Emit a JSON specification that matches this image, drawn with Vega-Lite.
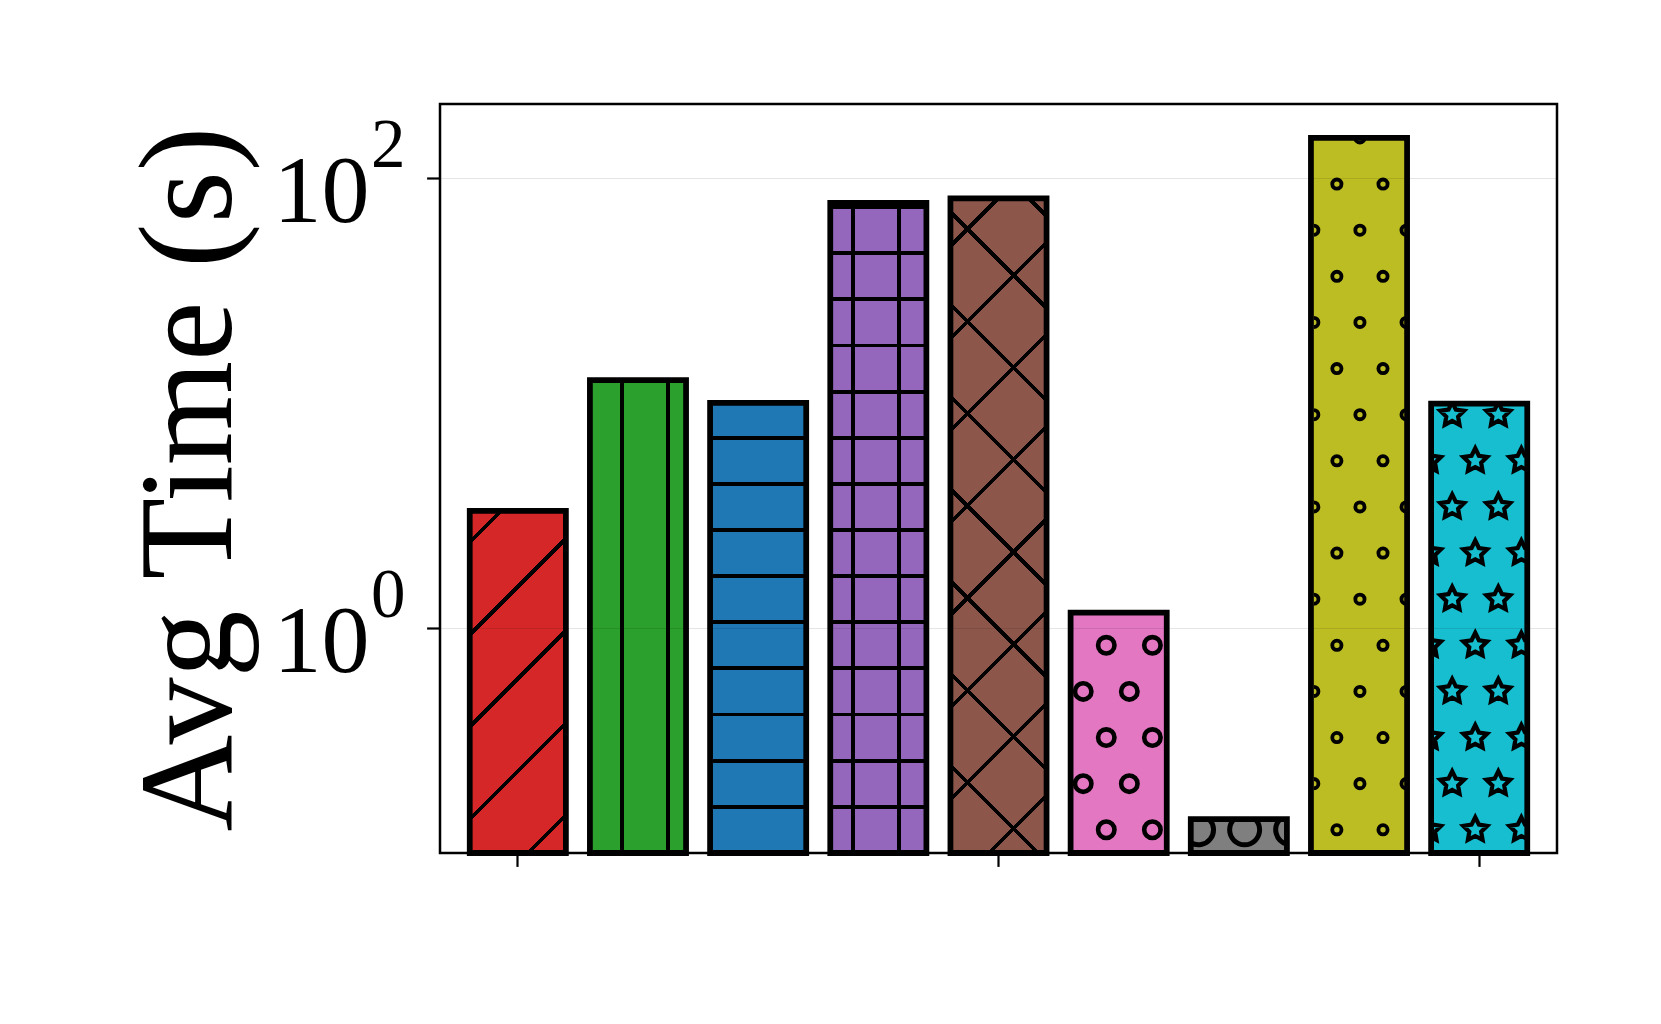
{
  "$schema": "https://vega.github.io/schema/vega-lite/v6.json",
  "autosize": {"type": "none"},
  "width": 1117,
  "height": 749,
  "padding": {"left": 440, "top": 104, "right": 104, "bottom": 171},
  "background": "white",
  "config": {
    "view": {"stroke": "black", "strokeWidth": 2.5},
    "font": "Liberation Serif"
  },
  "data": {
    "values": [
      {"method": "M1", "time": 3.314},
      {"method": "M2", "time": 12.65},
      {"method": "M3", "time": 10.03},
      {"method": "M4", "time": 77.6},
      {"method": "M5", "time": 81.2},
      {"method": "M6", "time": 1.172},
      {"method": "M7", "time": 0.1413},
      {"method": "M8", "time": 151.1},
      {"method": "M9", "time": 9.95}
    ]
  },
  "encoding": {
    "x": {
      "field": "method", "type": "nominal", "sort": null,
      "scale": {"domain": ["M1","M2","M3","M4","M5","M6","M7","M8","M9"], "paddingInner": 0.2, "paddingOuter": 0.2475},
      "axis": {"values": ["M1","M5","M9"], "labels": false, "title": null, "domain": false, "grid": false, "tickSize": 13.4, "tickWidth": 2.2, "tickColor": "black"}
    }
  },
  "layer": [
    {
      "mark": {"type": "bar", "strokeWidth": 0},
      "encoding": {
        "y": {
          "field": "time", "type": "quantitative",
          "scale": {"type": "log", "domain": [0.1, 213.5]},
          "axis": {
            "orient": "left",
            "values": [1, 100],
            "labelExpr": "'10'",
            "labelFont": "Liberation Serif", "labelFontSize": 96, "labelColor": "black",
            "labelBaseline": "alphabetic", "labelOffset": 43.5, "labelPadding": 57.6,
            "tickSize": 13.4, "tickWidth": 2.2, "tickColor": "black",
            "domain": false,
            "grid": true, "gridColor": "black", "gridOpacity": 0.1, "gridWidth": 1.2,
            "title": "Avg Time (s)", "titleFont": "Liberation Serif", "titleFontSize": 134, "titleFontWeight": "normal", "titleColor": "black", "titlePadding": 15,
            "zindex": 1
          }
        },
        "y2": {"datum": 0.1},
        "fill": {
          "condition": [
            {"test": "datum.method === 'M1'", "value": {"gradient": "linear", "x1": 0, "y1": 0, "x2": 0.33373, "y2": 1.18729, "stops": [
              {"offset": 0, "color": "#d62728"},
              {"offset": 0.06535, "color": "#d62728"}, {"offset": 0.06535, "color": "black"}, {"offset": 0.07775, "color": "black"}, {"offset": 0.07775, "color": "#d62728"},
              {"offset": 0.27586, "color": "#d62728"}, {"offset": 0.27586, "color": "black"}, {"offset": 0.28826, "color": "black"}, {"offset": 0.28826, "color": "#d62728"},
              {"offset": 0.48637, "color": "#d62728"}, {"offset": 0.48637, "color": "black"}, {"offset": 0.49877, "color": "black"}, {"offset": 0.49877, "color": "#d62728"},
              {"offset": 0.69688, "color": "#d62728"}, {"offset": 0.69688, "color": "black"}, {"offset": 0.70928, "color": "black"}, {"offset": 0.70928, "color": "#d62728"},
              {"offset": 0.90739, "color": "#d62728"}, {"offset": 0.90739, "color": "black"}, {"offset": 0.91979, "color": "black"}, {"offset": 0.91979, "color": "#d62728"},
              {"offset": 1, "color": "#d62728"}
            ]}},
            {"test": "datum.method === 'M2'", "value": {"gradient": "linear", "x1": 0, "y1": 0, "x2": 1, "y2": 0, "stops": [
              {"offset": 0, "color": "#2ca02c"},
              {"offset": 0.31381, "color": "#2ca02c"}, {"offset": 0.31381, "color": "black"}, {"offset": 0.35375, "color": "black"}, {"offset": 0.35375, "color": "#2ca02c"},
              {"offset": 0.79353, "color": "#2ca02c"}, {"offset": 0.79353, "color": "black"}, {"offset": 0.83347, "color": "black"}, {"offset": 0.83347, "color": "#2ca02c"},
              {"offset": 1, "color": "#2ca02c"}
            ]}},
            {"test": "datum.method === 'M3'", "value": {"gradient": "linear", "x1": 0, "y1": 0, "x2": 0, "y2": 1, "stops": [
              {"offset": 0, "color": "#1f77b4"},
              {"offset": 0.07346, "color": "#1f77b4"}, {"offset": 0.07346, "color": "black"}, {"offset": 0.08199, "color": "black"}, {"offset": 0.08199, "color": "#1f77b4"},
              {"offset": 0.17590, "color": "#1f77b4"}, {"offset": 0.17590, "color": "black"}, {"offset": 0.18443, "color": "black"}, {"offset": 0.18443, "color": "#1f77b4"},
              {"offset": 0.27834, "color": "#1f77b4"}, {"offset": 0.27834, "color": "black"}, {"offset": 0.28687, "color": "black"}, {"offset": 0.28687, "color": "#1f77b4"},
              {"offset": 0.38078, "color": "#1f77b4"}, {"offset": 0.38078, "color": "black"}, {"offset": 0.38931, "color": "black"}, {"offset": 0.38931, "color": "#1f77b4"},
              {"offset": 0.48322, "color": "#1f77b4"}, {"offset": 0.48322, "color": "black"}, {"offset": 0.49175, "color": "black"}, {"offset": 0.49175, "color": "#1f77b4"},
              {"offset": 0.58566, "color": "#1f77b4"}, {"offset": 0.58566, "color": "black"}, {"offset": 0.59419, "color": "black"}, {"offset": 0.59419, "color": "#1f77b4"},
              {"offset": 0.68810, "color": "#1f77b4"}, {"offset": 0.68810, "color": "black"}, {"offset": 0.69663, "color": "black"}, {"offset": 0.69663, "color": "#1f77b4"},
              {"offset": 0.79054, "color": "#1f77b4"}, {"offset": 0.79054, "color": "black"}, {"offset": 0.79907, "color": "black"}, {"offset": 0.79907, "color": "#1f77b4"},
              {"offset": 0.89298, "color": "#1f77b4"}, {"offset": 0.89298, "color": "black"}, {"offset": 0.90151, "color": "black"}, {"offset": 0.90151, "color": "#1f77b4"},
              {"offset": 0.99543, "color": "#1f77b4"}, {"offset": 0.99543, "color": "black"}, {"offset": 1, "color": "black"}
            ]}},
            {"test": "datum.method === 'M4'", "value": {"gradient": "linear", "x1": 0, "y1": 0, "x2": 1, "y2": 0, "stops": [
              {"offset": 0, "color": "#9467bd"},
              {"offset": 0.21250, "color": "#9467bd"}, {"offset": 0.21250, "color": "black"}, {"offset": 0.25244, "color": "black"}, {"offset": 0.25244, "color": "#9467bd"},
              {"offset": 0.69222, "color": "#9467bd"}, {"offset": 0.69222, "color": "black"}, {"offset": 0.73216, "color": "black"}, {"offset": 0.73216, "color": "#9467bd"},
              {"offset": 1, "color": "#9467bd"}
            ]}},
            {"test": "datum.method === 'M5'", "value": {"gradient": "linear", "x1": 0, "y1": 0, "x2": 0.164899, "y2": 1.122666, "stops": [
              {"offset": 0, "color": "#8c564b"},
              {"offset": 0.059866, "color": "#8c564b"}, {"offset": 0.059866, "color": "black"}, {"offset": 0.067112, "color": "black"}, {"offset": 0.067112, "color": "#8c564b"},
              {"offset": 0.182741, "color": "#8c564b"}, {"offset": 0.182741, "color": "black"}, {"offset": 0.189987, "color": "black"}, {"offset": 0.189987, "color": "#8c564b"},
              {"offset": 0.305616, "color": "#8c564b"}, {"offset": 0.305616, "color": "black"}, {"offset": 0.312862, "color": "black"}, {"offset": 0.312862, "color": "#8c564b"},
              {"offset": 0.428491, "color": "#8c564b"}, {"offset": 0.428491, "color": "black"}, {"offset": 0.435737, "color": "black"}, {"offset": 0.435737, "color": "#8c564b"},
              {"offset": 0.551366, "color": "#8c564b"}, {"offset": 0.551366, "color": "black"}, {"offset": 0.558612, "color": "black"}, {"offset": 0.558612, "color": "#8c564b"},
              {"offset": 0.674241, "color": "#8c564b"}, {"offset": 0.674241, "color": "black"}, {"offset": 0.681487, "color": "black"}, {"offset": 0.681487, "color": "#8c564b"},
              {"offset": 0.797116, "color": "#8c564b"}, {"offset": 0.797116, "color": "black"}, {"offset": 0.804362, "color": "black"}, {"offset": 0.804362, "color": "#8c564b"},
              {"offset": 0.919991, "color": "#8c564b"}, {"offset": 0.919991, "color": "black"}, {"offset": 0.927237, "color": "black"}, {"offset": 0.927237, "color": "#8c564b"},
              {"offset": 1, "color": "#8c564b"}
            ]}},
            {"test": "datum.method === 'M6'", "value": "#e377c2"},
            {"test": "datum.method === 'M7'", "value": "#7f7f7f"},
            {"test": "datum.method === 'M8'", "value": "#bcbd22"}
          ],
          "value": "#17becf"
        }
      }
    },
    {
      "transform": [{"filter": "datum.method === 'M4' || datum.method === 'M5'"}],
      "mark": {"type": "bar", "strokeWidth": 0},
      "encoding": {
        "y": {
          "field": "time", "type": "quantitative",
          "scale": {"type": "log", "domain": [0.1, 213.5]},
          "axis": {
            "orient": "left",
            "values": [1, 100],
            "labelExpr": "datum.value >= 10 ? '2' : '0'",
            "labelFont": "Liberation Serif", "labelFontSize": 69, "labelColor": "black",
            "labelBaseline": "alphabetic", "labelOffset": -12, "labelPadding": 35,
            "ticks": false, "tickSize": 0,
            "domain": false, "grid": false, "title": null,
            "zindex": 1
          }
        },
        "y2": {"datum": 0.1},
        "fill": {
          "condition": [
            {"test": "datum.method === 'M4'", "value": {"gradient": "linear", "x1": 0, "y1": 0, "x2": 0, "y2": 1, "stops": [
              {"offset": 0, "color": "rgba(0,0,0,0)"},
              {"offset": 0.003646, "color": "rgba(0,0,0,0)"}, {"offset": 0.003646, "color": "black"}, {"offset": 0.009552, "color": "black"}, {"offset": 0.009552, "color": "rgba(0,0,0,0)"},
              {"offset": 0.074588, "color": "rgba(0,0,0,0)"}, {"offset": 0.074588, "color": "black"}, {"offset": 0.080494, "color": "black"}, {"offset": 0.080494, "color": "rgba(0,0,0,0)"},
              {"offset": 0.145530, "color": "rgba(0,0,0,0)"}, {"offset": 0.145530, "color": "black"}, {"offset": 0.151436, "color": "black"}, {"offset": 0.151436, "color": "rgba(0,0,0,0)"},
              {"offset": 0.216472, "color": "rgba(0,0,0,0)"}, {"offset": 0.216472, "color": "black"}, {"offset": 0.222378, "color": "black"}, {"offset": 0.222378, "color": "rgba(0,0,0,0)"},
              {"offset": 0.287414, "color": "rgba(0,0,0,0)"}, {"offset": 0.287414, "color": "black"}, {"offset": 0.293320, "color": "black"}, {"offset": 0.293320, "color": "rgba(0,0,0,0)"},
              {"offset": 0.358356, "color": "rgba(0,0,0,0)"}, {"offset": 0.358356, "color": "black"}, {"offset": 0.364262, "color": "black"}, {"offset": 0.364262, "color": "rgba(0,0,0,0)"},
              {"offset": 0.429298, "color": "rgba(0,0,0,0)"}, {"offset": 0.429298, "color": "black"}, {"offset": 0.435204, "color": "black"}, {"offset": 0.435204, "color": "rgba(0,0,0,0)"},
              {"offset": 0.500240, "color": "rgba(0,0,0,0)"}, {"offset": 0.500240, "color": "black"}, {"offset": 0.506146, "color": "black"}, {"offset": 0.506146, "color": "rgba(0,0,0,0)"},
              {"offset": 0.571182, "color": "rgba(0,0,0,0)"}, {"offset": 0.571182, "color": "black"}, {"offset": 0.577088, "color": "black"}, {"offset": 0.577088, "color": "rgba(0,0,0,0)"},
              {"offset": 0.642124, "color": "rgba(0,0,0,0)"}, {"offset": 0.642124, "color": "black"}, {"offset": 0.648030, "color": "black"}, {"offset": 0.648030, "color": "rgba(0,0,0,0)"},
              {"offset": 0.713066, "color": "rgba(0,0,0,0)"}, {"offset": 0.713066, "color": "black"}, {"offset": 0.718972, "color": "black"}, {"offset": 0.718972, "color": "rgba(0,0,0,0)"},
              {"offset": 0.784008, "color": "rgba(0,0,0,0)"}, {"offset": 0.784008, "color": "black"}, {"offset": 0.789914, "color": "black"}, {"offset": 0.789914, "color": "rgba(0,0,0,0)"},
              {"offset": 0.854950, "color": "rgba(0,0,0,0)"}, {"offset": 0.854950, "color": "black"}, {"offset": 0.860856, "color": "black"}, {"offset": 0.860856, "color": "rgba(0,0,0,0)"},
              {"offset": 0.925892, "color": "rgba(0,0,0,0)"}, {"offset": 0.925892, "color": "black"}, {"offset": 0.931798, "color": "black"}, {"offset": 0.931798, "color": "rgba(0,0,0,0)"},
              {"offset": 0.996834, "color": "rgba(0,0,0,0)"}, {"offset": 0.996834, "color": "black"}, {"offset": 1, "color": "black"}
            ]}}
          ],
          "value": {"gradient": "linear", "x1": 0, "y1": 1, "x2": 0.164899, "y2": -0.122666, "stops": [
            {"offset": 0, "color": "rgba(0,0,0,0)"},
            {"offset": 0.112858, "color": "rgba(0,0,0,0)"}, {"offset": 0.112858, "color": "black"}, {"offset": 0.120104, "color": "black"}, {"offset": 0.120104, "color": "rgba(0,0,0,0)"},
            {"offset": 0.235733, "color": "rgba(0,0,0,0)"}, {"offset": 0.235733, "color": "black"}, {"offset": 0.242979, "color": "black"}, {"offset": 0.242979, "color": "rgba(0,0,0,0)"},
            {"offset": 0.358608, "color": "rgba(0,0,0,0)"}, {"offset": 0.358608, "color": "black"}, {"offset": 0.365854, "color": "black"}, {"offset": 0.365854, "color": "rgba(0,0,0,0)"},
            {"offset": 0.481483, "color": "rgba(0,0,0,0)"}, {"offset": 0.481483, "color": "black"}, {"offset": 0.488729, "color": "black"}, {"offset": 0.488729, "color": "rgba(0,0,0,0)"},
            {"offset": 0.604358, "color": "rgba(0,0,0,0)"}, {"offset": 0.604358, "color": "black"}, {"offset": 0.611604, "color": "black"}, {"offset": 0.611604, "color": "rgba(0,0,0,0)"},
            {"offset": 0.727233, "color": "rgba(0,0,0,0)"}, {"offset": 0.727233, "color": "black"}, {"offset": 0.734479, "color": "black"}, {"offset": 0.734479, "color": "rgba(0,0,0,0)"},
            {"offset": 0.850108, "color": "rgba(0,0,0,0)"}, {"offset": 0.850108, "color": "black"}, {"offset": 0.857354, "color": "black"}, {"offset": 0.857354, "color": "rgba(0,0,0,0)"},
            {"offset": 0.972983, "color": "rgba(0,0,0,0)"}, {"offset": 0.972983, "color": "black"}, {"offset": 0.980229, "color": "black"}, {"offset": 0.980229, "color": "rgba(0,0,0,0)"},
            {"offset": 1, "color": "rgba(0,0,0,0)"}
          ]}
        }
      }
    },
    {
      "transform": [{"filter": "datum.method === 'M6' || datum.method === 'M7' || datum.method === 'M8' || datum.method === 'M9'"}],
      "mark": {"type": "point", "filled": false, "opacity": 1, "stroke": "black", "size": 4, "strokeJoin": "miter"},
      "encoding": {
        "y": {"field": "time", "type": "quantitative", "scale": {"type": "log", "domain": [0.1, 213.5]}, "axis": null},
        "strokeWidth": {
          "condition": [
            {"test": "datum.method === 'M6'", "value": 4.6},
            {"test": "datum.method === 'M7'", "value": 5},
            {"test": "datum.method === 'M9'", "value": 4.2}
          ],
          "value": 3.84
        },
        "shape": {
          "condition": [
            {"test": "datum.method === 'M6'", "value": "M-20.6,32.76a8.2,8.2 0 1,0 16.4,0a8.2,8.2 0 1,0 -16.4,0M25.52,32.76a8.2,8.2 0 1,0 16.4,0a8.2,8.2 0 1,0 -16.4,0M-43.66,78.88a8.2,8.2 0 1,0 16.4,0a8.2,8.2 0 1,0 -16.4,0M2.46,78.88a8.2,8.2 0 1,0 16.4,0a8.2,8.2 0 1,0 -16.4,0M-20.6,125a8.2,8.2 0 1,0 16.4,0a8.2,8.2 0 1,0 -16.4,0M25.52,125a8.2,8.2 0 1,0 16.4,0a8.2,8.2 0 1,0 -16.4,0M-43.66,171.12a8.2,8.2 0 1,0 16.4,0a8.2,8.2 0 1,0 -16.4,0M2.46,171.12a8.2,8.2 0 1,0 16.4,0a8.2,8.2 0 1,0 -16.4,0M-20.6,217.24a8.2,8.2 0 1,0 16.4,0a8.2,8.2 0 1,0 -16.4,0M25.52,217.24a8.2,8.2 0 1,0 16.4,0a8.2,8.2 0 1,0 -16.4,0"},
            {"test": "datum.method === 'M7'", "value": "M-48.07,23.4A15,15 0 0,0 -29.67,0M-4.87,0A15,15 0 1,0 16.45,0M41.25,0A15,15 0 0,0 48.07,25.05"},
            {"test": "datum.method === 'M8'", "value": "M-3.68,0.19A4.6,4.6 0 0,0 5.52,0.19M-26.74,46.31a4.6,4.6 0 1,0 9.2,0a4.6,4.6 0 1,0 -9.2,0M19.38,46.31a4.6,4.6 0 1,0 9.2,0a4.6,4.6 0 1,0 -9.2,0M-45.2,87.83a4.6,4.6 0 0,1 0,9.2M-3.68,92.43a4.6,4.6 0 1,0 9.2,0a4.6,4.6 0 1,0 -9.2,0M47.04,87.83a4.6,4.6 0 0,0 0,9.2M-26.74,138.55a4.6,4.6 0 1,0 9.2,0a4.6,4.6 0 1,0 -9.2,0M19.38,138.55a4.6,4.6 0 1,0 9.2,0a4.6,4.6 0 1,0 -9.2,0M-45.2,180.07a4.6,4.6 0 0,1 0,9.2M-3.68,184.67a4.6,4.6 0 1,0 9.2,0a4.6,4.6 0 1,0 -9.2,0M47.04,180.07a4.6,4.6 0 0,0 0,9.2M-26.74,230.79a4.6,4.6 0 1,0 9.2,0a4.6,4.6 0 1,0 -9.2,0M19.38,230.79a4.6,4.6 0 1,0 9.2,0a4.6,4.6 0 1,0 -9.2,0M-45.2,272.31a4.6,4.6 0 0,1 0,9.2M-3.68,276.91a4.6,4.6 0 1,0 9.2,0a4.6,4.6 0 1,0 -9.2,0M47.04,272.31a4.6,4.6 0 0,0 0,9.2M-26.74,323.03a4.6,4.6 0 1,0 9.2,0a4.6,4.6 0 1,0 -9.2,0M19.38,323.03a4.6,4.6 0 1,0 9.2,0a4.6,4.6 0 1,0 -9.2,0M-45.2,364.55a4.6,4.6 0 0,1 0,9.2M-3.68,369.15a4.6,4.6 0 1,0 9.2,0a4.6,4.6 0 1,0 -9.2,0M47.04,364.55a4.6,4.6 0 0,0 0,9.2M-26.74,415.27a4.6,4.6 0 1,0 9.2,0a4.6,4.6 0 1,0 -9.2,0M19.38,415.27a4.6,4.6 0 1,0 9.2,0a4.6,4.6 0 1,0 -9.2,0M-45.2,456.79a4.6,4.6 0 0,1 0,9.2M-3.68,461.39a4.6,4.6 0 1,0 9.2,0a4.6,4.6 0 1,0 -9.2,0M47.04,456.79a4.6,4.6 0 0,0 0,9.2M-26.74,507.51a4.6,4.6 0 1,0 9.2,0a4.6,4.6 0 1,0 -9.2,0M19.38,507.51a4.6,4.6 0 1,0 9.2,0a4.6,4.6 0 1,0 -9.2,0M-45.2,549.03a4.6,4.6 0 0,1 0,9.2M-3.68,553.63a4.6,4.6 0 1,0 9.2,0a4.6,4.6 0 1,0 -9.2,0M47.04,549.03a4.6,4.6 0 0,0 0,9.2M-26.74,599.75a4.6,4.6 0 1,0 9.2,0a4.6,4.6 0 1,0 -9.2,0M19.38,599.75a4.6,4.6 0 1,0 9.2,0a4.6,4.6 0 1,0 -9.2,0M-45.2,641.27a4.6,4.6 0 0,1 0,9.2M-3.68,645.87a4.6,4.6 0 1,0 9.2,0a4.6,4.6 0 1,0 -9.2,0M47.04,641.27a4.6,4.6 0 0,0 0,9.2M-26.74,691.99a4.6,4.6 0 1,0 9.2,0a4.6,4.6 0 1,0 -9.2,0M19.38,691.99a4.6,4.6 0 1,0 9.2,0a4.6,4.6 0 1,0 -9.2,0"}
          ],
          "value": "M-26.33,0l2.99,6.06l8.22,1.2l-5.95,5.79l1.41,8.18l-7.35,-3.86l-7.35,3.86l1.41,-8.18l-5.95,-5.79l8.22,-1.2l2.99,-6.06M19.79,0l2.99,6.06l8.22,1.2l-5.95,5.79l1.41,8.18l-7.35,-3.86l-7.35,3.86l1.41,-8.18l-5.95,-5.79l8.22,-1.2l2.99,-6.06M-27.01,90.86l3.67,7.44l8.22,1.2l-5.95,5.79l1.41,8.18l-7.35,-3.86l-7.35,3.86l1.41,-8.18l-5.95,-5.79l8.22,-1.2zM19.11,90.86l3.67,7.44l8.22,1.2l-5.95,5.79l1.41,8.18l-7.35,-3.86l-7.35,3.86l1.41,-8.18l-5.95,-5.79l8.22,-1.2zM-27.01,183.1l3.67,7.44l8.22,1.2l-5.95,5.79l1.41,8.18l-7.35,-3.86l-7.35,3.86l1.41,-8.18l-5.95,-5.79l8.22,-1.2zM19.11,183.1l3.67,7.44l8.22,1.2l-5.95,5.79l1.41,8.18l-7.35,-3.86l-7.35,3.86l1.41,-8.18l-5.95,-5.79l8.22,-1.2zM-27.01,275.34l3.67,7.44l8.22,1.2l-5.95,5.79l1.41,8.18l-7.35,-3.86l-7.35,3.86l1.41,-8.18l-5.95,-5.79l8.22,-1.2zM19.11,275.34l3.67,7.44l8.22,1.2l-5.95,5.79l1.41,8.18l-7.35,-3.86l-7.35,3.86l1.41,-8.18l-5.95,-5.79l8.22,-1.2zM-27.01,367.58l3.67,7.44l8.22,1.2l-5.95,5.79l1.41,8.18l-7.35,-3.86l-7.35,3.86l1.41,-8.18l-5.95,-5.79l8.22,-1.2zM19.11,367.58l3.67,7.44l8.22,1.2l-5.95,5.79l1.41,8.18l-7.35,-3.86l-7.35,3.86l1.41,-8.18l-5.95,-5.79l8.22,-1.2zM-3.95,44.74l3.67,7.44l8.22,1.2l-5.95,5.79l1.41,8.18l-7.35,-3.86l-7.35,3.86l1.41,-8.18l-5.95,-5.79l8.22,-1.2zM-3.95,136.98l3.67,7.44l8.22,1.2l-5.95,5.79l1.41,8.18l-7.35,-3.86l-7.35,3.86l1.41,-8.18l-5.95,-5.79l8.22,-1.2zM-3.95,229.22l3.67,7.44l8.22,1.2l-5.95,5.79l1.41,8.18l-7.35,-3.86l-7.35,3.86l1.41,-8.18l-5.95,-5.79l8.22,-1.2zM-3.95,321.46l3.67,7.44l8.22,1.2l-5.95,5.79l1.41,8.18l-7.35,-3.86l-7.35,3.86l1.41,-8.18l-5.95,-5.79l8.22,-1.2zM-3.95,413.7l3.67,7.44l8.22,1.2l-5.95,5.79l1.41,8.18l-7.35,-3.86l-7.35,3.86l1.41,-8.18l-5.95,-5.79l8.22,-1.2zM-48.07,48.79l1.67,3.39l8.22,1.2l-5.95,5.79l1.41,8.18l-5.35,-2.81M-48.07,141.03l1.67,3.39l8.22,1.2l-5.95,5.79l1.41,8.18l-5.35,-2.81M-48.07,233.27l1.67,3.39l8.22,1.2l-5.95,5.79l1.41,8.18l-5.35,-2.81M-48.07,325.51l1.67,3.39l8.22,1.2l-5.95,5.79l1.41,8.18l-5.35,-2.81M-48.07,417.75l1.67,3.39l8.22,1.2l-5.95,5.79l1.41,8.18l-5.35,-2.81M48.07,66.59l-5.9,-3.1l-7.35,3.86l1.41,-8.18l-5.95,-5.79l8.22,-1.2l3.67,-7.44l3.67,7.44l2.23,0.33M48.07,158.83l-5.9,-3.1l-7.35,3.86l1.41,-8.18l-5.95,-5.79l8.22,-1.2l3.67,-7.44l3.67,7.44l2.23,0.33M48.07,251.07l-5.9,-3.1l-7.35,3.86l1.41,-8.18l-5.95,-5.79l8.22,-1.2l3.67,-7.44l3.67,7.44l2.23,0.33M48.07,343.31l-5.9,-3.1l-7.35,3.86l1.41,-8.18l-5.95,-5.79l8.22,-1.2l3.67,-7.44l3.67,7.44l2.23,0.33M48.07,435.55l-5.9,-3.1l-7.35,3.86l1.41,-8.18l-5.95,-5.79l8.22,-1.2l3.67,-7.44l3.67,7.44l2.23,0.33"
        }
      }
    },
    {
      "mark": {"type": "bar", "fillOpacity": 0, "stroke": "black", "strokeWidth": 5.76},
      "encoding": {
        "y": {"field": "time", "type": "quantitative", "scale": {"type": "log", "domain": [0.1, 213.5]}, "axis": null},
        "y2": {"datum": 0.1}
      }
    }
  ],
  "resolve": {"axis": {"y": "independent"}}
}
